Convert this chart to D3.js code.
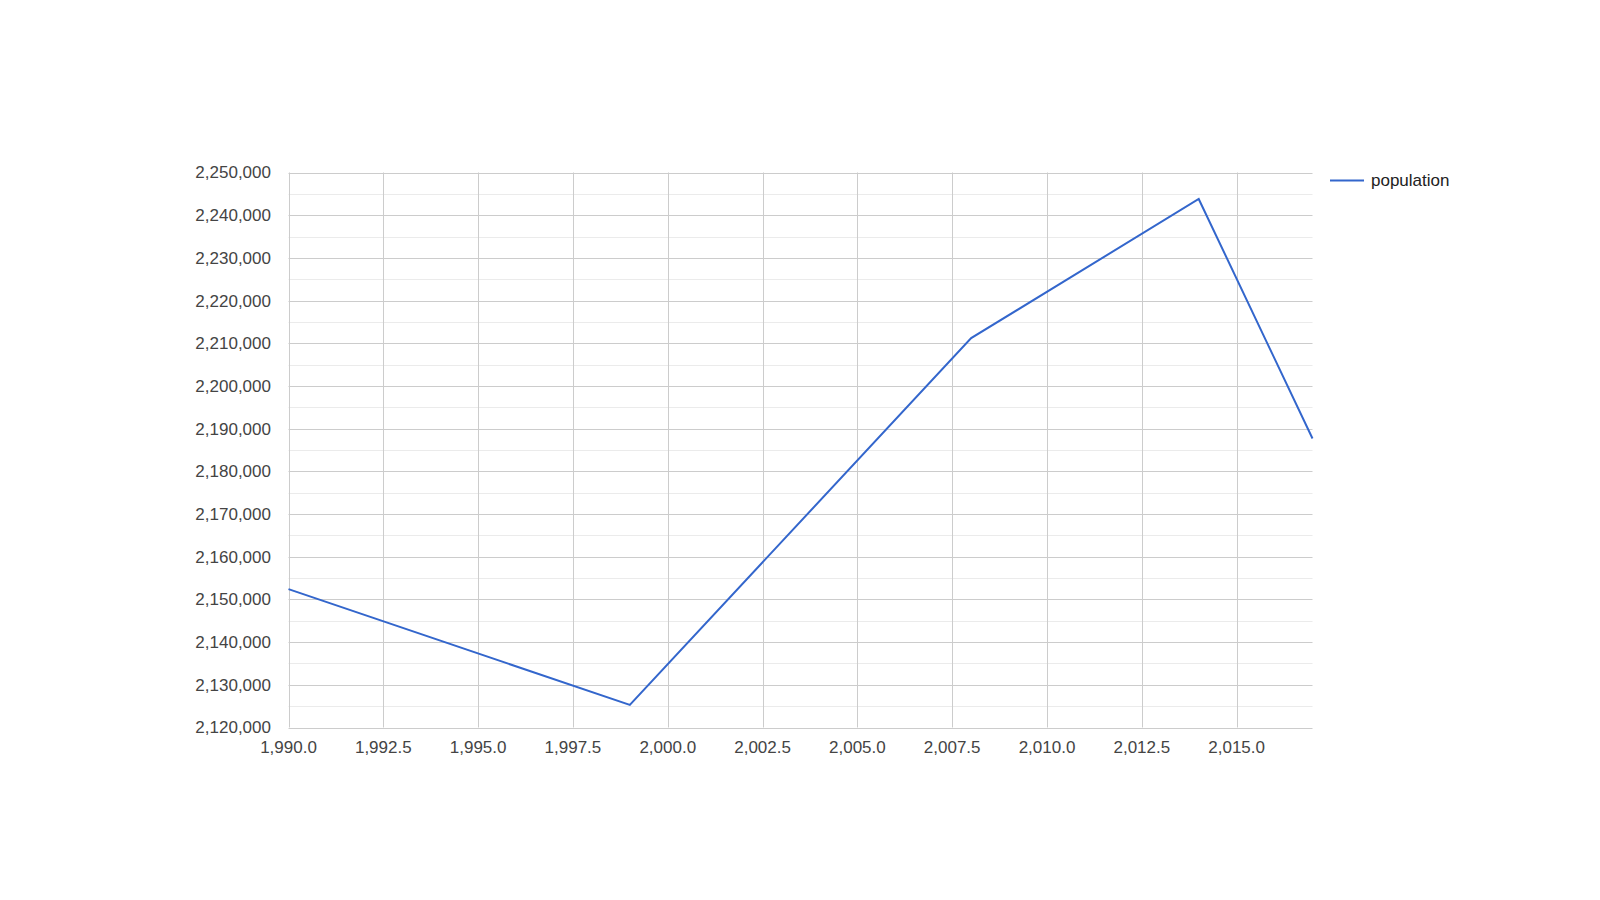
<!DOCTYPE html>
<html>
<head>
<meta charset="utf-8">
<script src="https://cdn.jsdelivr.net/npm/d3@7"></script>
<style>
  body { margin: 0; background: #fff; }
  text { font-family: "Liberation Sans", Arial, sans-serif; }
</style>
</head>
<body>
<div class="chart"></div>
<script>
const years = [1990, 1999, 2008, 2014, 2017]
const population = [2152400, 2125300, 2211200, 2243800, 2187700]
const seriesName = 'population'

const yTicks = d3.range(2120000, 2250001, 10000)
const yMinor = d3.range(2125000, 2250000, 10000)
const xTicks = d3.range(1990, 2016, 2.5)

const width = 1600
const height = 900
const plot = { left: 288.5, right: 1312.5, top: 172.5, bottom: 727.5 }

const svg = d3.select('.chart')
    .append('svg')
    .attr('width', width)
    .attr('height', height)

const x = d3.scaleLinear()
    .domain([1990, 2017])
    .range([plot.left, plot.right])

const y = d3.scaleLinear()
    .domain([2120000, 2250000])
    .range([plot.bottom, plot.top])

// minor horizontal gridlines
svg.append('g')
    .selectAll('line')
    .data(yMinor)
    .enter().append('line')
    .attr('x1', plot.left).attr('x2', plot.right)
    .attr('y1', d => Math.round(y(d)) + 0.5).attr('y2', d => Math.round(y(d)) + 0.5)
    .attr('stroke', '#ebebeb')

// major horizontal gridlines
svg.append('g')
    .selectAll('line')
    .data(yTicks)
    .enter().append('line')
    .attr('x1', plot.left).attr('x2', plot.right)
    .attr('y1', d => Math.round(y(d)) + 0.5).attr('y2', d => Math.round(y(d)) + 0.5)
    .attr('stroke', '#cccccc')

// vertical gridlines
svg.append('g')
    .selectAll('line')
    .data(xTicks)
    .enter().append('line')
    .attr('x1', d => Math.round(x(d)) + 0.5).attr('x2', d => Math.round(x(d)) + 0.5)
    .attr('y1', plot.top).attr('y2', plot.bottom)
    .attr('stroke', '#cccccc')

const fmtY = d3.format(',')
const fmtX = d3.format(',.1f')

svg.append('g')
    .selectAll('text')
    .data(yTicks)
    .enter().append('text')
    .attr('x', 271)
    .attr('y', d => y(d))
    .attr('dy', '0.35em')
    .attr('text-anchor', 'end')
    .attr('font-size', 17)
    .attr('fill', '#444')
    .text(d => fmtY(d))

svg.append('g')
    .selectAll('text')
    .data(xTicks)
    .enter().append('text')
    .attr('x', d => x(d))
    .attr('y', 747)
    .attr('dy', '0.35em')
    .attr('text-anchor', 'middle')
    .attr('font-size', 17)
    .attr('fill', '#444')
    .text(d => fmtX(d))

const line = d3.line()
    .x((d, i) => x(years[i]))
    .y(d => y(d))

svg.append('path')
    .datum(population)
    .attr('fill', 'none')
    .attr('stroke', '#3366cc')
    .attr('stroke-width', 2)
    .attr('d', line)

// legend
const legend = svg.append('g')
legend.append('line')
    .attr('x1', 1330).attr('x2', 1364)
    .attr('y1', 180.5).attr('y2', 180.5)
    .attr('stroke', '#3366cc')
    .attr('stroke-width', 2)
legend.append('text')
    .attr('x', 1371)
    .attr('y', 180)
    .attr('dy', '0.35em')
    .attr('font-size', 17)
    .attr('fill', '#222')
    .text(seriesName)
</script>
</body>
</html>
